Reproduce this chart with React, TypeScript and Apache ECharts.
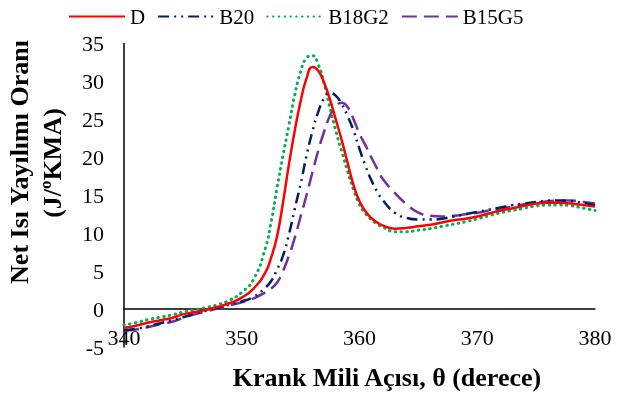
import React, { useEffect, useRef } from "react";
import * as echarts from "echarts";

const theta = [340, 341, 342, 343, 344, 345, 346, 347, 348, 349, 350, 351, 352,
  352.5, 353, 353.5, 354, 354.5, 355, 355.5, 356, 356.5, 357, 357.5, 358, 358.5, 359, 359.5, 360, 360.5, 361, 361.5, 362,
  363, 364, 365, 366, 367, 368, 369, 370, 371, 372, 373, 374, 375, 376, 377, 378, 379, 380];

const D = [-2.5, -2.2, -1.8, -1.5, -1.2, -0.7, -0.4, -0.1, 0.3, 0.8, 1.5, 2.7, 4.8,
  6.8, 9.6, 14.0, 19.0, 23.5, 27.4, 30.4, 31.9, 31.4, 29.8, 27.6, 24.9, 22.2, 19.2, 16.3, 14.2, 12.9, 12.0, 11.4, 11.0,
  10.6, 10.7, 10.9, 11.1, 11.4, 11.7, 11.9, 12.2, 12.6, 13.0, 13.3, 13.6, 13.9, 14.0, 14.0, 13.9, 13.7, 13.5];

const B20 = [-2.8, -2.6, -2.3, -1.9, -1.5, -1.1, -0.6, -0.2, 0.2, 0.6, 1.0, 1.6, 2.8,
  3.7, 5.2, 7.0, 9.8, 13.2, 16.5, 20.2, 23.4, 26.0, 27.8, 28.5, 28.1, 27.0, 25.4, 23.5, 21.1, 18.9, 17.0, 15.5, 14.3,
  12.7, 12.0, 11.8, 11.8, 11.9, 12.2, 12.5, 12.8, 13.1, 13.4, 13.7, 13.9, 14.1, 14.3, 14.3, 14.2, 14.0, 13.7];

const B18G2 = [-2.1, -1.8, -1.4, -1.1, -0.8, -0.4, -0.1, 0.2, 0.6, 1.2, 2.2, 3.9, 8.0,
  11.5, 16.0, 20.2, 24.2, 28.2, 31.3, 33.1, 33.4, 32.2, 29.7, 26.5, 23.4, 20.7, 18.1, 15.7, 13.8, 12.6, 11.8, 11.2, 10.8,
  10.2, 10.2, 10.4, 10.6, 10.9, 11.2, 11.5, 11.9, 12.3, 12.7, 13.0, 13.3, 13.6, 13.7, 13.7, 13.6, 13.3, 13.0];

const B15G5 = [-2.9, -2.7, -2.4, -2.0, -1.7, -1.2, -0.7, -0.3, 0.1, 0.5, 0.9, 1.4, 2.2,
  2.7, 3.5, 5.0, 7.0, 9.4, 12.2, 15.0, 18.0, 20.9, 23.4, 25.5, 26.8, 27.2, 26.6, 25.0, 23.1, 21.6, 20.0, 18.5, 17.1,
  15.3, 13.8, 12.7, 12.3, 12.2, 12.3, 12.5, 12.7, 13.0, 13.3, 13.5, 13.8, 14.0, 14.2, 14.3, 14.3, 14.1, 13.9];

const seriesNames = ["D", "B20", "B18G2", "B15G5"];
const xTitle = "Krank Mili Açısı, θ (derece)";
const yTitleLine1 = "Net Isı Yayılımı Oranı";
const yTitleLine2 = "(J/ºKMA)";

const FONT = "'Liberation Serif', 'Times New Roman', serif";

export default function App() {
  const ref = useRef<HTMLDivElement>(null);
  useEffect(() => {
    if (!ref.current) return;
    const chart = echarts.init(ref.current, null, { renderer: "svg" });
    const pairs = (vals: number[]) => theta.map((t, i) => [t, vals[i]]);
    const styles: any[] = [
      { color: "#FF0000", width: 2.5, type: "solid" },
      { color: "#002060", width: 2.5, type: [11, 5, 2, 5, 2, 5] },
      { color: "#00B050", width: 3, type: [0.5, 5.3], cap: "round" },
      { color: "#7030A0", width: 2.5, type: [15, 7] },
    ];
    const data = [D, B20, B18G2, B15G5];
    chart.setOption({
      animation: false,
      textStyle: { fontFamily: FONT },
      legend: {
        left: 63,
        top: 1,
        itemWidth: 56,
        itemHeight: 14,
        itemGap: 12,
        itemStyle: { opacity: 0 },
        textStyle: { fontFamily: FONT, fontSize: 21, color: "#000" },
        data: seriesNames,
      },
      grid: {
        left: 124,
        right: 23,
        top: 43.5,
        bottom: 47,
        containLabel: false,
        outerBoundsMode: "none",
      },
      xAxis: {
        type: "value",
        min: 340,
        max: 380,
        interval: 10,
        axisLine: { show: true, onZero: true, lineStyle: { color: "#000", width: 1.5 } },
        axisTick: { show: false },
        splitLine: { show: false },
        axisLabel: { fontFamily: FONT, fontSize: 22, color: "#000", margin: -21 },
      },
      yAxis: {
        type: "value",
        min: -5,
        max: 35,
        interval: 5,
        axisLine: { show: true, lineStyle: { color: "#000", width: 1.5 } },
        axisTick: { show: false },
        splitLine: { show: false },
        axisLabel: { fontFamily: FONT, fontSize: 22, color: "#000", margin: 20 },
      },
      graphic: [
        {
          type: "text",
          x: 387,
          y: 377,
          style: {
            text: xTitle,
            font: `bold 26px ${FONT}`,
            fill: "#000",
            textAlign: "center",
            textVerticalAlign: "middle",
          },
        },
        {
          type: "text",
          x: 19,
          y: 162,
          rotation: Math.PI / 2,
          style: {
            text: yTitleLine1,
            font: `bold 26px ${FONT}`,
            fill: "#000",
            textAlign: "center",
            textVerticalAlign: "middle",
          },
        },
        {
          type: "text",
          x: 52,
          y: 163,
          rotation: Math.PI / 2,
          style: {
            text: yTitleLine2,
            font: `bold 26px ${FONT}`,
            fill: "#000",
            textAlign: "center",
            textVerticalAlign: "middle",
          },
        },
      ],
      series: seriesNames.map((name, i) => ({
        name,
        type: "line",
        data: pairs(data[i]),
        smooth: 0.5,
        symbol: "none",
        showSymbol: false,
        lineStyle: styles[i],
        itemStyle: { color: styles[i].color, opacity: 0 },
        z: [4, 3, 2, 1][i],
      })),
    });
    return () => chart.dispose();
  }, []);
  return (
    <div
      ref={ref}
      style={{ position: "fixed", left: 0, top: 0, width: 618, height: 394 }}
    />
  );
}
